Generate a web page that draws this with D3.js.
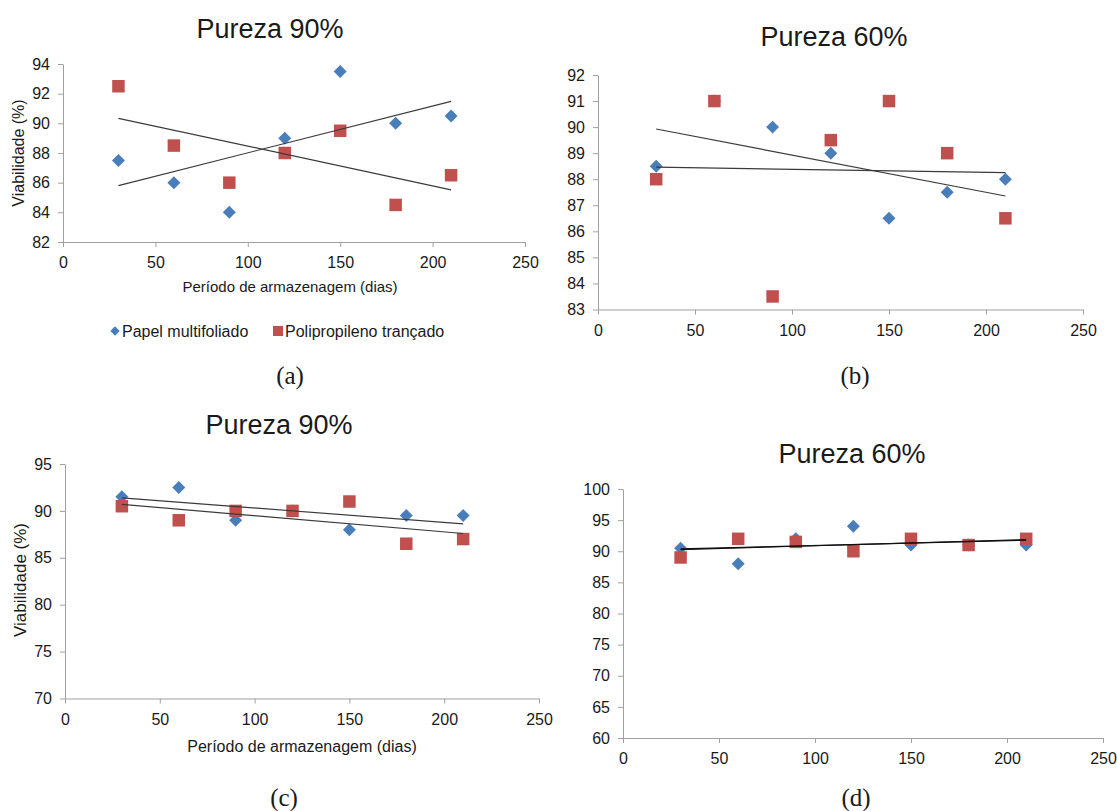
<!DOCTYPE html>
<html>
<head>
<meta charset="utf-8">
<script src="https://cdn.jsdelivr.net/npm/d3@7"></script>
<style>
  body { margin: 0; background: #fff; }
  text { font-family: "Liberation Sans", Arial, sans-serif; fill: #1a1a1a; }
</style>
</head>
<body>
<div id="wrapper"></div>
<script>
// data
const days = [30, 60, 90, 120, 150, 180, 210];

const papelA = [87.5, 86, 84, 89, 93.5, 90, 90.5];
const poliA  = [92.5, 88.5, 86, 88, 89.5, 84.5, 86.5];
const papelB = [88.5, 91, 90, 89, 86.5, 87.5, 88];
const poliB  = [88, 91, 83.5, 89.5, 91, 89, 86.5];
const papelC = [91.5, 92.5, 89, 90, 88, 89.5, 89.5];
const poliC  = [90.5, 89, 90, 90, 91, 86.5, 87];
const papelD = [90.5, 88, 92, 94, 91, 91, 91];
const poliD  = [89, 92, 91.5, 90, 92, 91, 92];

const xTicks  = [0, 50, 100, 150, 200, 250];
const yTicksA = [82, 84, 86, 88, 90, 92, 94];
const yTicksB = [83, 84, 85, 86, 87, 88, 89, 90, 91, 92];
const yTicksC = [70, 75, 80, 85, 90, 95];
const yTicksD = [60, 65, 70, 75, 80, 85, 90, 95, 100];

const titles   = ["Pureza 90%", "Pureza 60%", "Pureza 90%", "Pureza 60%"];
const captions = ["(a)", "(b)", "(c)", "(d)"];
const seriesNames = ["Papel multifoliado", "Polipropileno trançado"];
const xTitle = "Período de armazenagem (dias)";
const yTitle = "Viabilidade (%)";

const blue = "#4a7ebb";
const red = "#c0504d";
const axisColor = "#a0a0a0";

// layout of the four panels (pixel ranges)
const panels = [
  { papel: papelA, poli: poliA, yTicks: yTicksA, xr: [63, 525], yr: [242, 64], tick: 16,
    title: [270, 38], caption: [290, 384], xLab: [290, 292, 15], yLab: [18, 153, 16] },
  { papel: papelB, poli: poliB, yTicks: yTicksB, xr: [598, 1083], yr: [309.5, 75], tick: 16,
    title: [834, 46], caption: [855, 384] },
  { papel: papelC, poli: poliC, yTicks: yTicksC, xr: [65, 539], yr: [698.5, 464], tick: 16,
    title: [279, 434], caption: [284, 806], xLab: [302, 752, 16], yLab: [20, 580, 17] },
  { papel: papelD, poli: poliD, yTicks: yTicksD, xr: [623, 1103], yr: [738, 489], tick: 16,
    title: [852, 463], caption: [856, 806] }
];

const svg = d3.select("#wrapper").append("svg")
  .attr("width", 1117)
  .attr("height", 811);

const diamond = d3.symbol().type(d3.symbolSquare).size(84);
const square = d3.symbol().type(d3.symbolSquare).size(156);

// least squares line, like the excel trendline
function trend(xs, ys) {
  const mx = d3.mean(xs), my = d3.mean(ys);
  const sxy = d3.sum(xs, (x, i) => (x - mx) * (ys[i] - my));
  const sxx = d3.sum(xs, x => (x - mx) ** 2);
  const b = sxy / sxx, a = my - b * mx;
  const x0 = d3.min(xs), x1 = d3.max(xs);
  return [[x0, a + b * x0], [x1, a + b * x1]];
}

function styleAxis(g, size) {
  g.attr("font-size", null).attr("font-family", null);
  g.select(".domain").attr("stroke", axisColor);
  g.selectAll(".tick line").attr("stroke", axisColor);
  g.selectAll(".tick text").style("font-size", size + "px").attr("fill", "#1a1a1a");
}

panels.forEach((p, i) => {
  const yTicks = p.yTicks;
  const xScale = d3.scaleLinear().domain([0, 250]).range(p.xr);
  const yScale = d3.scaleLinear().domain([yTicks[0], yTicks[yTicks.length - 1]]).range(p.yr);

  const g = svg.append("g");

  const yAxis = g.append("g")
    .attr("transform", `translate(${p.xr[0]},0)`)
    .call(d3.axisLeft(yScale).tickValues(yTicks).tickSize(5).tickSizeOuter(0).tickPadding(8).tickFormat(d3.format("d")));
  styleAxis(yAxis, p.tick);

  const xAxis = g.append("g")
    .attr("transform", `translate(0,${p.yr[0]})`)
    .call(d3.axisBottom(xScale).tickValues(xTicks).tickSize(5).tickSizeOuter(0).tickPadding(10).tickFormat(d3.format("d")));
  styleAxis(xAxis, p.tick);

  // markers: papel (diamonds) below, polipropileno (squares) on top
  g.selectAll(".papel")
    .data(days.map((d, k) => [d, p.papel[k]]))
    .join("path")
    .attr("class", "papel")
    .attr("d", diamond)
    .attr("fill", blue)
    .attr("transform", d => `translate(${xScale(d[0])},${yScale(d[1])}) rotate(45)`);

  g.selectAll(".poli")
    .data(days.map((d, k) => [d, p.poli[k]]))
    .join("path")
    .attr("class", "poli")
    .attr("d", square)
    .attr("fill", red)
    .attr("transform", d => `translate(${xScale(d[0])},${yScale(d[1])})`);

  // trendlines
  const line = d3.line().x(d => xScale(d[0])).y(d => yScale(d[1]));
  [p.papel, p.poli].forEach(vals => {
    g.append("path")
      .attr("d", line(trend(days, vals)))
      .attr("fill", "none")
      .attr("stroke", i == 3 ? "#111" : "#3a3a3a")
      .attr("stroke-width", 1.2);
  });

  // title
  g.append("text")
    .attr("x", p.title[0])
    .attr("y", p.title[1])
    .attr("text-anchor", "middle")
    .style("font-size", "27px")
    .text(titles[i]);

  // axis titles (only the left panels)
  if (p.xLab) {
    g.append("text")
      .attr("x", p.xLab[0])
      .attr("y", p.xLab[1])
      .attr("text-anchor", "middle")
      .style("font-size", p.xLab[2] + "px")
      .text(xTitle);
  }
  if (p.yLab) {
    g.append("text")
      .attr("transform", `translate(${p.yLab[0]},${p.yLab[1]}) rotate(-90)`)
      .attr("text-anchor", "middle")
      .attr("dy", "0.35em")
      .style("font-size", p.yLab[2] + "px")
      .text(yTitle);
  }

  // caption (a) (b) ...
  g.append("text")
    .attr("x", p.caption[0])
    .attr("y", p.caption[1])
    .attr("text-anchor", "middle")
    .style("font-family", "'Liberation Serif', 'Times New Roman', serif")
    .style("font-size", "25px")
    .text(captions[i]);
});

// legend under panel (a)
const legend = svg.append("g").attr("transform", "translate(0,331)");
const legendItems = [
  { name: seriesNames[0], x: 115, sym: d3.symbol().type(d3.symbolSquare).size(44), rot: 45, color: blue },
  { name: seriesNames[1], x: 278, sym: d3.symbol().type(d3.symbolSquare).size(100), rot: 0, color: red }
];
legendItems.forEach(it => {
  legend.append("path")
    .attr("d", it.sym)
    .attr("fill", it.color)
    .attr("transform", `translate(${it.x},0) rotate(${it.rot})`);
  legend.append("text")
    .attr("x", it.x + 7)
    .attr("y", 0)
    .attr("dy", "0.36em")
    .style("font-size", "16px")
    .text(it.name);
});
</script>
</body>
</html>
